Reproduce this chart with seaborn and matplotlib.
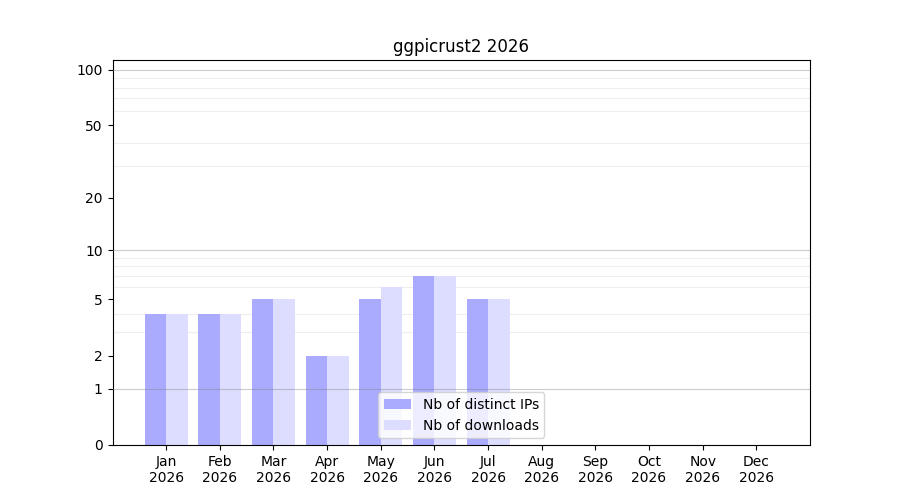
import numpy as np
import pandas as pd
import seaborn as sns
import matplotlib
matplotlib.use('Agg')
import matplotlib.pyplot as plt

months = ['Jan', 'Feb', 'Mar', 'Apr', 'May', 'Jun',
          'Jul', 'Aug', 'Sep', 'Oct', 'Nov', 'Dec']
year = '2026'
distinct_ips = [4, 4, 5, 2, 5, 7, 5, 0, 0, 0, 0, 0]
downloads = [4, 4, 5, 2, 6, 7, 5, 0, 0, 0, 0, 0]

label_ips = 'Nb of distinct IPs'
label_dl = 'Nb of downloads'


def main():
    df = pd.DataFrame({
        'month': months * 2,
        'value': distinct_ips + downloads,
        'serie': [label_ips] * len(months) + [label_dl] * len(months),
    })

    fig, ax = plt.subplots(figsize=(9, 5), dpi=100)

    sns.barplot(data=df, x='month', y='value', hue='serie',
                palette={label_ips: '#aaaaff', label_dl: '#ddddff'},
                saturation=1, width=0.8, ax=ax, zorder=2)

    # log(1+x) scale
    ax.set_yscale('function',
                  functions=(lambda y: np.log10(1 + np.clip(y, -0.999, None)),
                             lambda y: 10 ** y - 1))
    ax.set_ylim(0, 113)
    ax.set_xlim(-1, 12)

    ax.set_yticks([0, 1, 2, 5, 10, 20, 50, 100])
    ax.set_yticklabels(['0', '1', '2', '5', '10', '20', '50', '100'])
    minor = [2, 3, 4, 5, 6, 7, 8, 9, 20, 30, 40, 50, 60, 70, 80, 90]
    ax.set_yticks(minor, minor=True)
    ax.tick_params(axis='y', which='minor', length=0)
    ax.set_axisbelow(True)
    ax.grid(True, which='minor', axis='y', color='#eeeeee', linewidth=0.8)
    for v in [1, 10, 100]:
        ax.axhline(v, color='gray', alpha=0.4, linewidth=0.8, zorder=3)

    ax.set_xticks(range(len(months)))
    ax.set_xticklabels([f'{m}\n{year}' for m in months])
    ax.set_xlabel('')
    ax.set_ylabel('')
    ax.set_title(f'ggpicrust2 {year}')

    ax.legend(loc='lower center', title=None)

    plt.savefig('out.png', dpi=100)


if __name__ == '__main__':
    main()
